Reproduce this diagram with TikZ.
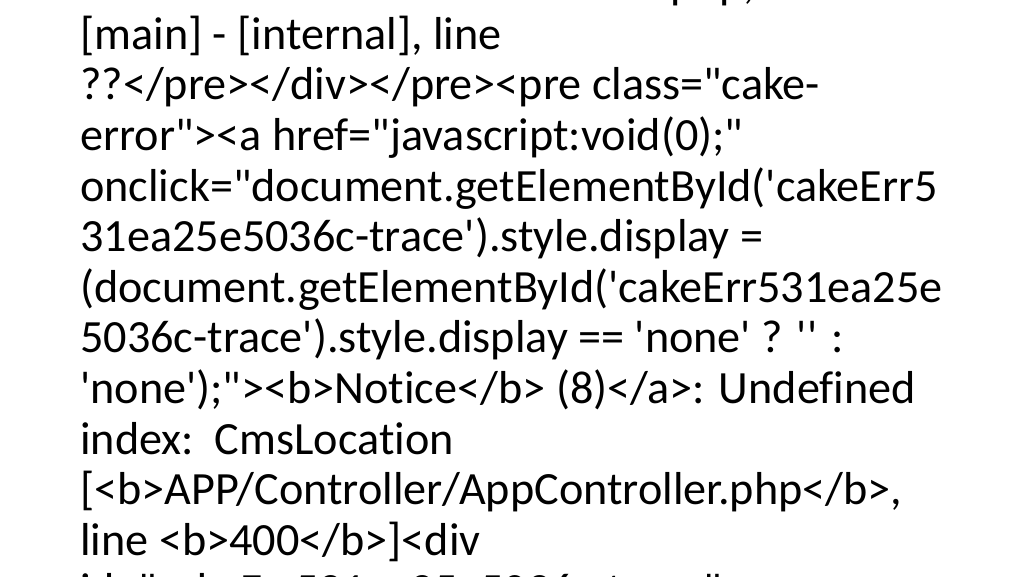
\documentclass[tikz,border=0pt]{standalone}
\usepackage{fontspec}
\setmainfont{Carlito}[Ligatures={TeXOff,CommonOff}]
\begin{document}
\begin{tikzpicture}[x=0.75pt,y=-0.75pt]
\tikzstyle{codeline}=[anchor=base west,inner sep=0pt,font=\fontsize{34.65}{38}\selectfont]

\useasboundingbox (0,0) rectangle (1024,576);
\fill[white] (0,0) rectangle (1024,576);
\clip (0,0) rectangle (1024,576);

\foreach \txt [count=\i from 0] in {
  {CORE/Cake/Error/ErrorHandler.php, line 212},
  {[main] - [internal], line},
  {??</pre></div></pre><pre class="cake-},
  {error"><a href="javascript:void(0);"},
  {onclick="document.getElementById('cakeErr5},
  {31ea25e5036c-trace').style.display =},
  {(document.getElementById('cakeErr531ea25e},
  {5036c-trace').style.display == 'none' ? '' :},
  {'none');"><b>Notice</b> (8)</a>: Undefined},
  {index:\ \ CmsLocation},
  {[<b>APP/Controller/AppController.php</b>,},
  {line <b>400</b>]<div},
  {id="cakeErr531ea25e5036c-trace"}}
  \node[codeline] (line\i) at (80,{50.6*\i-1.3}) {\txt};

\end{tikzpicture}
\end{document}
